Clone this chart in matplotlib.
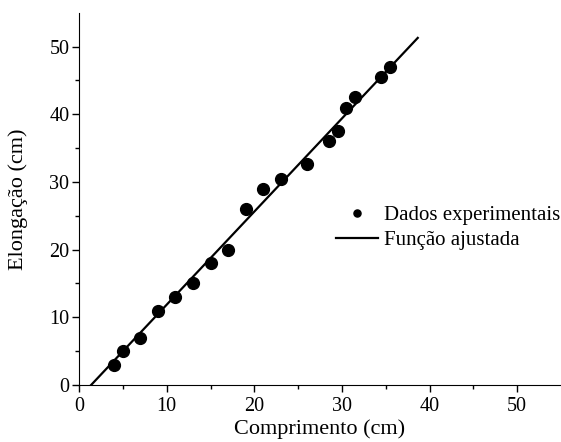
import numpy as np
import matplotlib
matplotlib.use("Agg")
import matplotlib.pyplot as plt

# data
comprimento = [4, 5, 7, 9, 11, 13, 15, 17, 19, 21, 23, 26, 28.5, 29.5, 30.5, 31.5, 34.5, 35.5]
elongacao = [3, 5, 7, 11, 13, 15, 18, 20, 26, 29, 30.5, 32.7, 36, 37.5, 41, 42.5, 45.5, 47]

# fitted line (slope, intercept) and its x range
fit_slope = 1.376
fit_intercept = -1.89
fit_x = [1.0, 38.65]

plt.rcParams['font.family'] = ['Liberation Serif', 'DejaVu Serif']

fig = plt.figure(figsize=(5.61, 4.42), dpi=100)
ax = fig.add_axes([0.141, 0.129, 0.859, 0.842])

xs = np.array(fit_x)
ax.plot(comprimento, elongacao, 'o', color='black', markersize=8.5, label='Dados experimentais')
ax.plot(xs, fit_slope * xs + fit_intercept, '-', color='black', lw=1.6, label='Função ajustada')

ax.set_xlim(0, 55)
ax.set_ylim(0, 55)
ax.set_xticks([0, 10, 20, 30, 40, 50])
ax.set_yticks([0, 10, 20, 30, 40, 50])
ax.set_xticks(np.arange(5, 55, 10), minor=True)
ax.set_yticks(np.arange(5, 55, 10), minor=True)
ax.tick_params(which='major', direction='out', length=5, width=1, labelsize=14.5, pad=2)
ax.tick_params(axis='x', which='major', pad=4)
ax.tick_params(which='minor', direction='out', length=3, width=1)

ax.spines['top'].set_visible(False)
ax.spines['right'].set_visible(False)

ax.set_xlabel('Comprimento (cm)', fontsize=16, labelpad=2)
ax.set_ylabel('Elongação (cm)', fontsize=16, labelpad=15)

ax.legend(loc='upper left', bbox_to_anchor=(0.494, 0.532), frameon=False, fontsize=15,
          markerscale=0.6, handlelength=2.0, handletextpad=0.3, labelspacing=0.25)

fig.savefig('out.png', dpi=100)
